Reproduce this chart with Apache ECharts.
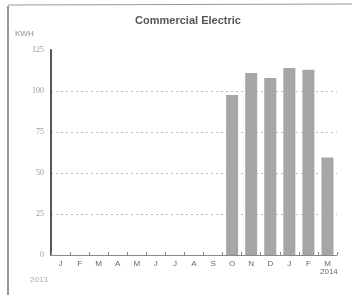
<!DOCTYPE html>
<html>
<head>
<meta charset="utf-8">
<script src="https://cdn.jsdelivr.net/npm/echarts@6/dist/echarts.min.js"></script>
<style>
  html, body { margin: 0; padding: 0; background: #fff; }
  #main { width: 361px; height: 295px; }
</style>
</head>
<body>
<div id="main"></div>
<script>
// months Jan 2013 .. Mar 2014
var months = ["J", "F", "M", "A", "M", "J", "J", "A", "S", "O", "N", "D", "J", "F", "M"];
var usage  = [null, null, null, null, null, null, null, null, null, 97.5, 111, 108, 114, 113, 59.5];
var yearLabels = ["2013", "2014"];
var yTicks = [0, 25, 50, 75, 100, 125];

var chart = echarts.init(document.getElementById("main"));

var option = {
    backgroundColor: "#fff",
    animation: false,
    title: {
        text: "Commercial Electric",
        left: 183,
        textAlign: "center",
        top: 10,
        textStyle: { fontFamily: "Liberation Sans", fontSize: 11, fontWeight: "bold", color: "#555" }
    },
    grid: { left: 51, right: 24, top: 50, bottom: 40 },
    xAxis: {
        type: "category",
        data: months,
        axisLine: { lineStyle: { color: "#888", width: 1 } },
        axisTick: { show: true, length: 3, inside: true, lineStyle: { color: "#888" } },
        axisLabel: { fontFamily: "Liberation Sans", fontSize: 8, color: "#666", margin: 5, interval: 0 }
    },
    yAxis: {
        type: "value",
        min: yTicks[0],
        max: yTicks[yTicks.length - 1],
        interval: 25,
        axisLine: { show: true, lineStyle: { color: "#555", width: 2 } },
        axisTick: { show: false },
        axisLabel: { fontFamily: "Liberation Serif", fontSize: 8, color: "#999", margin: 7 },
        splitLine: { show: true, showMaxLine: false, lineStyle: { color: "#bbb", type: [2, 3], width: 1 } }
    },
    series: [{
        type: "bar",
        data: usage,
        barWidth: 12,
        itemStyle: { color: "#a6a6a6" }
    }],
    graphic: [
        { type: "line", shape: { x1: 8, y1: 6, x2: 8, y2: 295 }, style: { stroke: "#777", lineWidth: 1.5 } },
        { type: "line", shape: { x1: 8, y1: 5, x2: 352, y2: 4 }, style: { stroke: "#999", lineWidth: 1 } },
        { type: "text", left: 15, top: 30, style: { text: "KWH", fontFamily: "Liberation Sans", fontSize: 8, fill: "#888" } },
        { type: "text", left: 30, top: 276, style: { text: yearLabels[0], fontFamily: "Liberation Sans", fontSize: 8, fill: "#aaa" } },
        { type: "text", left: 320, top: 268, style: { text: yearLabels[1], fontFamily: "Liberation Sans", fontSize: 8, fill: "#666" } }
    ]
};

chart.setOption(option);
</script>
</body>
</html>
